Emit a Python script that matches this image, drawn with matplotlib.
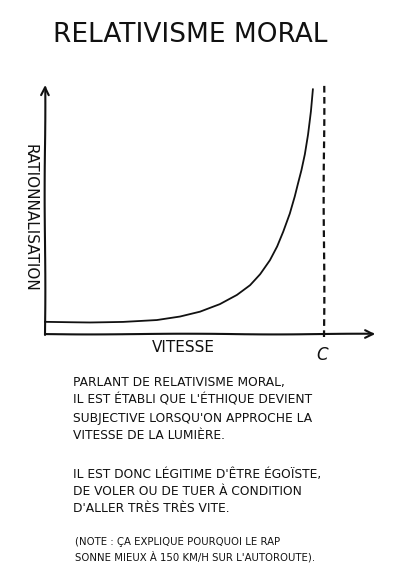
import matplotlib
matplotlib.use('Agg')
import matplotlib.pyplot as plt

# vitesse (fraction de c) et rationnalisation
vitesse = [0.0, 0.161, 0.280, 0.401, 0.484, 0.556, 0.627, 0.688, 0.735,
           0.771, 0.806, 0.832, 0.854, 0.878, 0.896, 0.907, 0.920, 0.932,
           0.943, 0.953, 0.960]
rationnalisation = [0.50, 0.48, 0.50, 0.57, 0.71, 0.91, 1.22, 1.60, 2.00,
                    2.45, 3.02, 3.58, 4.18, 4.92, 5.62, 6.12, 6.70, 7.35,
                    8.15, 9.10, 10.0]
c_value = 1.0

title = 'RELATIVISME MORAL'
xlabel = 'VITESSE'
ylabel = 'RATIONNALISATION'
para1 = ("PARLANT DE RELATIVISME MORAL,\n"
         "IL EST ÉTABLI QUE L'ÉTHIQUE DEVIENT\n"
         "SUBJECTIVE LORSQU'ON APPROCHE LA\n"
         "VITESSE DE LA LUMIÈRE.")
para2 = ("IL EST DONC LÉGITIME D'ÊTRE ÉGOÏSTE,\n"
         "DE VOLER OU DE TUER À CONDITION\n"
         "D'ALLER TRÈS TRÈS VITE.")
note = ("(NOTE : ÇA EXPLIQUE POURQUOI LE RAP\n"
        "SONNE MIEUX À 150 KM/H SUR L'AUTOROUTE).")

ink = '#111111'

with plt.xkcd(scale=0.35, length=200, randomness=2):
    plt.rcParams['font.family'] = ['DejaVu Sans']
    plt.rcParams['path.effects'] = []

    fig = plt.figure(figsize=(4, 5.75), dpi=100)
    fig.patch.set_facecolor('white')

    ax = fig.add_axes([0.1125, 0.419, 0.8325, 0.438])
    ax.set_xlim(0, 1.194)
    ax.set_ylim(0, 10.29)
    for s in ax.spines.values():
        s.set_visible(False)
    ax.set_xticks([])
    ax.set_yticks([])

    # axes with arrows
    ax.annotate('', xy=(1.194, 0), xytext=(-0.01, 0), xycoords='data',
                arrowprops=dict(arrowstyle='->', color=ink, lw=1.5,
                                mutation_scale=14), annotation_clip=False)
    ax.annotate('', xy=(0, 10.29), xytext=(0, -0.15), xycoords='data',
                arrowprops=dict(arrowstyle='->', color=ink, lw=1.5,
                                mutation_scale=14), annotation_clip=False)

    curve, = ax.plot(vitesse, rationnalisation, color=ink, lw=1.3,
                     clip_on=False)
    curve.set_sketch_params(0.15, 200, 2)
    ax.plot([c_value, c_value], [-0.12, 10.16], color=ink, lw=1.6,
            linestyle=(0, (3, 2)), clip_on=False)

    fig.text(183 / 400, 1 - 348 / 575, xlabel, ha='center', va='center',
             fontsize=11, color=ink)
    fig.text(322 / 400, 1 - 355 / 575, 'C', ha='center', va='center',
             fontsize=12, color=ink, style='italic')
    fig.text(30 / 400, 1 - 218 / 575, ylabel, ha='center', va='center',
             rotation=-90, fontsize=11, color=ink)

    fig.text(190 / 400, 1 - 35 / 575, title, ha='center', va='center',
             fontsize=19, color=ink)

    fig.text(73 / 400, 1 - 376 / 575, para1, ha='left', va='top',
             fontsize=8.8, color=ink, linespacing=1.48)
    fig.text(73 / 400, 1 - 468 / 575, para2, ha='left', va='top',
             fontsize=8.8, color=ink, linespacing=1.4)
    fig.text(75 / 400, 1 - 537 / 575, note, ha='left', va='top',
             fontsize=7.3, color=ink, linespacing=1.38)

    fig.savefig('out.png', dpi=100, facecolor='white')
